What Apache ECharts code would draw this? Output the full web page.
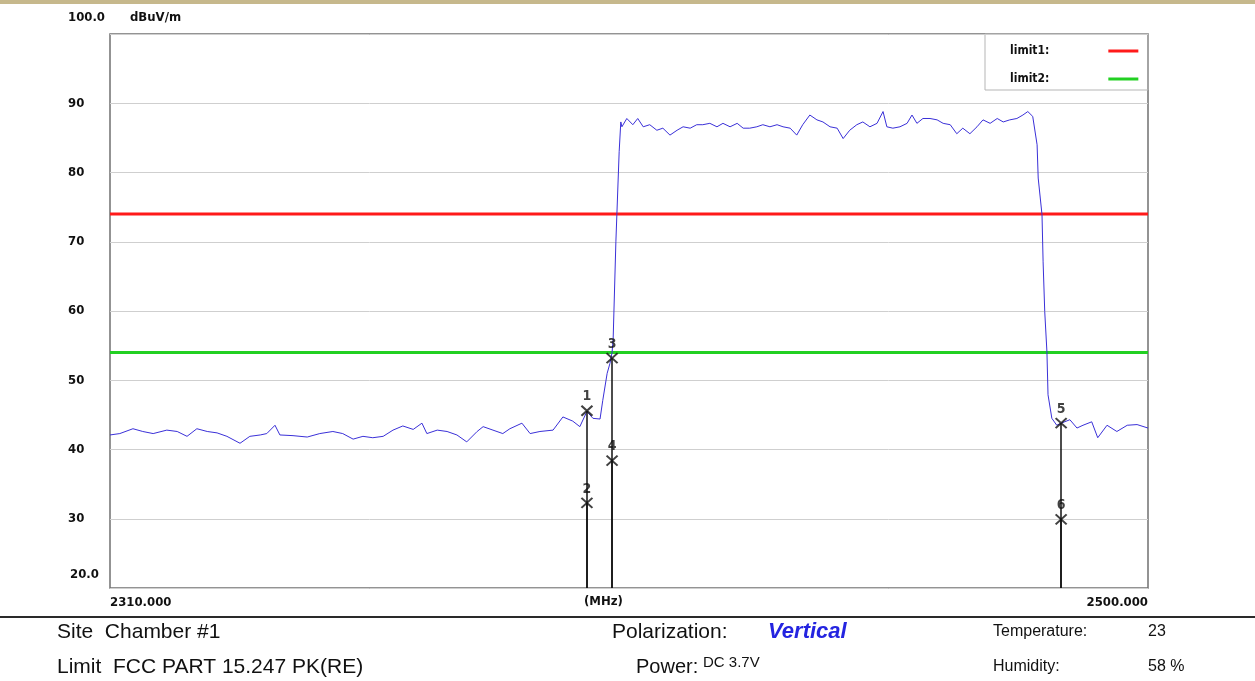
<!DOCTYPE html>
<html>
<head>
<meta charset="utf-8">
<script src="https://cdn.jsdelivr.net/npm/echarts@6/dist/echarts.min.js"></script>
<style>
  html, body { margin: 0; padding: 0; background: #fff; }
  #chart { width: 1255px; height: 681px; }
</style>
</head>
<body>
<div id="chart"></div>
<script>
// frequency (MHz) / level (dBuV/m)
const traceFreq = [
  2310.0, 2311.8, 2314.2, 2316.0, 2317.9, 2320.4, 2322.3, 2324.1, 2325.9, 2327.8,
  2329.6, 2331.4, 2333.8, 2335.6, 2337.5, 2338.7, 2340.2, 2341.1, 2343.5, 2346.1,
  2348.4, 2350.8, 2352.6, 2354.5, 2356.3, 2358.1, 2360.0, 2361.8, 2363.6, 2365.5,
  2367.1, 2368.0, 2369.9, 2371.7, 2373.5, 2375.3, 2377.2, 2378.3, 2380.1, 2381.9,
  2383.2, 2385.4, 2386.9, 2388.7, 2391.1, 2392.9, 2394.7, 2396.0, 2397.3, 2398.4,
  2399.7, 2400.2, 2401.0, 2401.5, 2401.9, 2402.1, 2402.6, 2403.2, 2403.5, 2403.7,
  2404.6, 2405.7, 2406.6, 2407.6, 2408.8, 2410.1, 2411.2, 2412.5, 2413.8, 2414.9,
  2416.2, 2417.4, 2418.5, 2419.8, 2421.1, 2422.2, 2423.5, 2424.8, 2425.9, 2427.1,
  2428.4, 2429.5, 2430.8, 2432.1, 2433.2, 2434.5, 2435.7, 2436.8, 2438.1, 2439.4,
  2440.5, 2441.8, 2443.1, 2444.2, 2445.4, 2446.7, 2447.8, 2449.1, 2450.4, 2451.5,
  2452.2, 2453.3, 2454.6, 2455.9, 2456.8, 2457.7, 2458.8, 2460.1, 2461.4, 2462.5,
  2463.8, 2465.0, 2466.1, 2467.4, 2468.7, 2469.8, 2471.1, 2472.4, 2473.5, 2474.7,
  2476.0, 2477.1, 2478.0, 2478.9, 2479.7, 2479.9, 2480.6, 2480.8, 2481.1, 2481.5,
  2481.7, 2482.4, 2483.3, 2484.1, 2485.7, 2487.0, 2488.1, 2489.7, 2490.8, 2492.5,
  2494.3, 2496.2, 2498.0, 2500.0
]
const traceLevel = [
  42.1, 42.3, 43.0, 42.6, 42.3, 42.8, 42.6, 41.9, 43.0, 42.6,
  42.4, 41.9, 40.9, 41.9, 42.1, 42.3, 43.5, 42.1, 42.0, 41.8,
  42.3, 42.6, 42.3, 41.5, 41.9, 41.7, 41.9, 42.8, 43.4, 42.9,
  43.8, 42.3, 42.8, 42.6, 42.1, 41.1, 42.6, 43.3, 42.8, 42.3,
  43.0, 43.8, 42.3, 42.6, 42.8, 44.7, 44.1, 43.3, 45.5, 44.5,
  44.4, 47.1, 51.0, 52.4, 54.0, 56.0, 70.0, 83.0, 87.3, 86.6,
  87.8, 86.9, 87.8, 86.6, 86.9, 86.1, 86.4, 85.4, 86.1, 86.6,
  86.4, 86.9, 86.9, 87.1, 86.6, 87.1, 86.6, 87.1, 86.4, 86.4,
  86.6, 86.9, 86.6, 86.9, 86.6, 86.4, 85.4, 86.9, 88.3, 87.6,
  87.3, 86.6, 86.4, 84.9, 86.1, 86.9, 87.3, 86.6, 87.1, 88.8,
  86.6, 86.4, 86.6, 87.1, 88.3, 87.1, 87.8, 87.8, 87.6, 87.1,
  86.9, 85.6, 86.4, 85.6, 86.6, 87.6, 87.1, 87.8, 87.3, 87.6,
  87.8, 88.3, 88.8, 88.1, 84.0, 79.2, 73.9, 67.1, 59.9, 54.1,
  47.9, 44.5, 43.5, 43.8, 44.3, 43.1, 43.5, 44.0, 41.7, 43.5,
  42.6, 43.5, 43.6, 43.1
]

const limit1 = 74
const limit2 = 54

const markerNames = ['1', '2', '3', '4', '5', '6']
const markerFreq = [2397.3, 2397.3, 2401.9, 2401.9, 2484.1, 2484.1]
const markerLevel = [45.6, 32.3, 53.2, 38.4, 43.8, 29.9]

const xMin = 2310
const xMax = 2500
const yMin = 20
const yMax = 100
const yTicks = [30, 40, 50, 60, 70, 80, 90]

const narrow = "'Liberation Sans Narrow', 'Arial Narrow', 'DejaVu Sans Condensed', sans-serif"
const sans = "'Liberation Sans', Arial, sans-serif"

const chart = echarts.init(document.getElementById('chart'))

function txt(x, y, text, extra) {
  return {
    type: 'text',
    x: x,
    y: y,
    silent: true,
    style: Object.assign({
      text: text,
      fill: '#111',
      fontFamily: sans,
      fontSize: 21,
      align: 'left',
      verticalAlign: 'middle'
    }, extra || {})
  }
}

const option = {
  animation: false,
  backgroundColor: '#fff',
  grid: {
    left: 110,
    right: 107,
    top: 34,
    bottom: 93,
    show: true,
    borderColor: '#707070',
    borderWidth: 1.5
  },
  legend: {
    data: ['limit1', 'limit2'],
    left: 1005,
    top: 40,
    orient: 'vertical',
    align: 'right',
    icon: 'rect',
    itemWidth: 30,
    itemHeight: 3,
    itemGap: 16,
    formatter: '{name}:',
    textStyle: {
      color: '#111',
      fontFamily: narrow,
      fontWeight: 'bold',
      fontSize: 12,
      padding: [0, 54, 0, 0]
    }
  },
  xAxis: {
    type: 'value',
    min: xMin,
    max: xMax,
    axisLine: { show: false },
    axisTick: { show: false },
    splitLine: { show: false },
    axisLabel: {
      customValues: [xMin, xMax],
      alignMinLabel: 'left',
      alignMaxLabel: 'right',
      margin: 8,
      color: '#111',
      fontFamily: narrow,
      fontWeight: 'bold',
      fontSize: 13,
      formatter: v => v.toFixed(3)
    }
  },
  yAxis: {
    type: 'value',
    min: yMin,
    max: yMax,
    interval: 10,
    axisLine: { show: false },
    axisTick: { show: false },
    splitLine: {
      lineStyle: { color: '#cfcfcf', width: 1 }
    },
    axisLabel: {
      customValues: yTicks,
      align: 'left',
      margin: 42,
      color: '#111',
      fontFamily: narrow,
      fontWeight: 'bold',
      fontSize: 13
    }
  },
  series: [
    {
      name: 'trace',
      type: 'line',
      showSymbol: false,
      silent: true,
      data: traceFreq.map((f, i) => [f, traceLevel[i]]),
      lineStyle: { color: '#3a30d8', width: 1 },
      z: 3
    },
    {
      name: 'limit1',
      type: 'line',
      showSymbol: false,
      silent: true,
      color: '#ff1a1a',
      data: [[xMin, limit1], [xMax, limit1]],
      lineStyle: { color: '#ff1a1a', width: 3 },
      z: 2
    },
    {
      name: 'limit2',
      type: 'line',
      showSymbol: false,
      silent: true,
      color: '#22d022',
      data: [[xMin, limit2], [xMax, limit2]],
      lineStyle: { color: '#22d022', width: 3 },
      z: 2
    },
    {
      name: 'markers',
      type: 'scatter',
      symbol: 'path://M0,0L10,10M0,10L10,0',
      symbolSize: [11, 10],
      silent: true,
      data: markerFreq.map((f, i) => [f, markerLevel[i]]),
      itemStyle: {
        color: 'transparent',
        borderColor: '#111',
        borderWidth: 2
      },
      label: {
        show: true,
        position: 'top',
        distance: 1,
        color: '#111',
        fontFamily: narrow,
        fontWeight: 'bold',
        fontSize: 14,
        formatter: p => markerNames[p.dataIndex]
      },
      markLine: {
        silent: true,
        symbol: ['none', 'none'],
        label: { show: false },
        lineStyle: { color: '#111', width: 1.5, type: 'solid' },
        data: markerFreq.map((f, i) => [
          { coord: [f, yMin] },
          { coord: [f, markerLevel[i]] }
        ])
      },
      z: 4
    }
  ],
  graphic: [
    // strip of the page above the plot
    { type: 'rect', silent: true, shape: { x: 0, y: 0, width: 1255, height: 4 }, style: { fill: '#c6b88c' } },
    // legend box
    { type: 'rect', silent: true, shape: { x: 985, y: 34, width: 163, height: 56 }, style: { fill: 'none', stroke: '#b5b5b5', lineWidth: 1 } },
    txt(68, 18, '100.0', { fontFamily: narrow, fontWeight: 'bold', fontSize: 13 }),
    txt(130, 18, 'dBuV/m', { fontFamily: narrow, fontWeight: 'bold', fontSize: 13 }),
    txt(70, 575, '20.0', { fontFamily: narrow, fontWeight: 'bold', fontSize: 13 }),
    txt(584, 602, '(MHz)', { fontFamily: narrow, fontWeight: 'bold', fontSize: 13 }),
    // separator under the plot
    { type: 'rect', silent: true, shape: { x: 0, y: 616, width: 1255, height: 2 }, style: { fill: '#2a2a2a' } },
    txt(57, 632, 'Site  Chamber #1'),
    txt(57, 667, 'Limit  FCC PART 15.247 PK(RE)'),
    txt(612, 632, 'Polarization:'),
    txt(768, 632, 'Vertical', { fill: '#2424e0', fontWeight: 'bold', fontStyle: 'italic', fontSize: 22 }),
    txt(636, 667, 'Power:', { fontSize: 20 }),
    txt(703, 663, 'DC 3.7V', { fontSize: 15 }),
    txt(993, 632, 'Temperature:', { fontSize: 16 }),
    txt(1148, 632, '23', { fontSize: 16 }),
    txt(993, 667, 'Humidity:', { fontSize: 16 }),
    txt(1148, 667, '58 %', { fontSize: 16 })
  ]
}

chart.setOption(option)
</script>
</body>
</html>
